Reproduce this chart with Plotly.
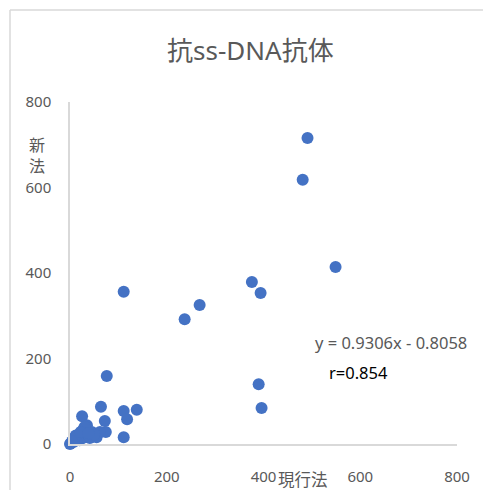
import plotly.graph_objects as go

# Data (現行法 vs 新法)
current_method = [491, 481, 549, 376, 394, 111, 268, 237, 76, 390, 396, 64, 138, 111, 118, 72, 74, 111,
                  25, 35, 45, 55, 62, 6, 0, 20, 31, 41, 17, 27, 10, 2, 15, 30, 50, 8, 12, 4, 22, 38]
new_method = [716, 618, 414, 379, 353, 356, 325, 292, 159, 140, 84, 87, 80, 77, 58, 54, 28, 16,
              65, 44, 28, 16, 28, 9, 0, 9, 16, 14, 21, 33, 16, 2, 12, 40, 22, 5, 20, 6, 28, 25]
tick_vals = [0, 200, 400, 600, 800]
title_text = "抗ss-DNA抗体"
eq_text = "y = 0.9306x - 0.8058"
r_text = "r=0.854"

W, H = 483, 490
L, R, T, B = 70, 26, 102, 46
pw, ph = W - L - R, H - T - B

def px_x(p):
    return (p - L) / pw

def px_y(p):
    return (H - B - p) / ph

FONT = "Noto Sans, Noto Sans CJK JP, sans-serif"
GRAY = "#595959"
LINE = "#d9d9d9"

fig = go.Figure()
fig.add_trace(go.Scatter(
    x=current_method, y=new_method, mode="markers",
    marker=dict(size=12, color="#4472C4"),
    showlegend=False, cliponaxis=False,
))

fig.update_layout(
    width=W, height=H,
    margin=dict(l=L, r=R, t=T, b=B, autoexpand=False),
    paper_bgcolor="white", plot_bgcolor="white",
    font=dict(family=FONT, color=GRAY, size=14),
    xaxis=dict(range=[0, 800], tickvals=tick_vals, showgrid=False, zeroline=False,
               showline=True, linecolor=LINE, linewidth=1.5, ticks="", automargin=False,
               ticklabelstandoff=18, tickfont=dict(size=15, color=GRAY, family=FONT)),
    yaxis=dict(range=[0, 800], tickvals=tick_vals, showgrid=False, zeroline=False,
               showline=True, linecolor=LINE, linewidth=1.5, ticks="", automargin=False,
               ticklabelstandoff=14, tickfont=dict(size=15, color=GRAY, family=FONT)),
    shapes=[
        dict(type="line", xref="paper", yref="paper", x0=px_x(10), x1=px_x(490), y0=px_y(10), y1=px_y(10),
             line=dict(color=LINE, width=1.5)),
        dict(type="line", xref="paper", yref="paper", x0=px_x(10), x1=px_x(10), y0=px_y(10), y1=px_y(495),
             line=dict(color=LINE, width=1.5)),
    ],
    annotations=[
        dict(text=title_text, xref="paper", yref="paper", x=px_x(250), y=px_y(50),
             showarrow=False, font=dict(size=26, color=GRAY, family=FONT), xanchor="center", yanchor="middle"),
        dict(text="新<br>法", xref="paper", yref="paper", x=px_x(37), y=px_y(155),
             showarrow=False, font=dict(size=16, color=GRAY, family=FONT), xanchor="center", yanchor="middle"),
        dict(text="現行法", xref="paper", yref="paper", x=px_x(303), y=px_y(479),
             showarrow=False, font=dict(size=16.5, color=GRAY, family=FONT), xanchor="center", yanchor="middle"),
        dict(text=eq_text, xref="paper", yref="paper", x=px_x(313), y=px_y(342),
             showarrow=False, font=dict(size=16.5, color=GRAY, family=FONT), xanchor="left", yanchor="middle"),
        dict(text=r_text, xref="paper", yref="paper", x=px_x(327), y=px_y(372),
             showarrow=False, font=dict(size=16.5, color="black", family=FONT), xanchor="left", yanchor="middle"),
    ],
)

fig.write_html("out.html", config={"displayModeBar": False},
               post_script="document.body.style.margin='0';document.body.style.overflow='hidden';")
